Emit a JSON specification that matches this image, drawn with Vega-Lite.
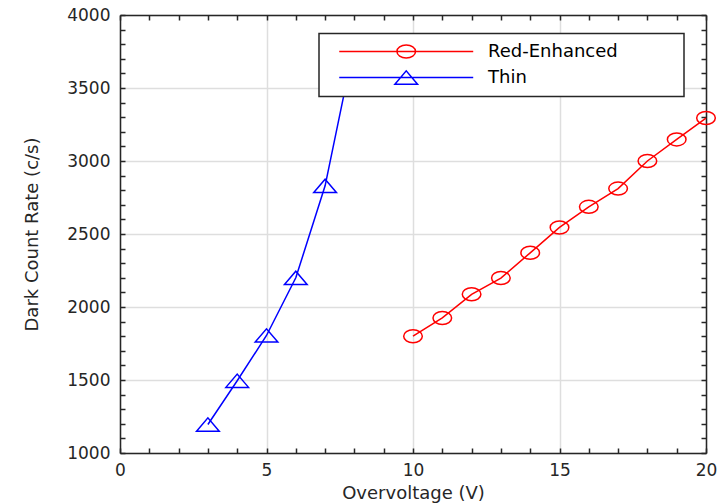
{
  "$schema": "https://vega.github.io/schema/vega-lite/v6.json",
  "width": 586,
  "height": 438,
  "autosize": {"type": "none"},
  "padding": {"left": 120, "top": 15, "right": 16, "bottom": 51},
  "background": "white",
  "data": {"values": [
    {"series": "Thin", "v": 3, "dcr": 1195},
    {"series": "Thin", "v": 4, "dcr": 1495},
    {"series": "Thin", "v": 5, "dcr": 1805},
    {"series": "Thin", "v": 6, "dcr": 2200},
    {"series": "Thin", "v": 7, "dcr": 2830},
    {"series": "Thin", "v": 8, "dcr": 3800},
    {"series": "Red-Enhanced", "v": 10, "dcr": 1800},
    {"series": "Red-Enhanced", "v": 11, "dcr": 1925},
    {"series": "Red-Enhanced", "v": 12, "dcr": 2087},
    {"series": "Red-Enhanced", "v": 13, "dcr": 2198},
    {"series": "Red-Enhanced", "v": 14, "dcr": 2371},
    {"series": "Red-Enhanced", "v": 15, "dcr": 2545},
    {"series": "Red-Enhanced", "v": 16, "dcr": 2686},
    {"series": "Red-Enhanced", "v": 17, "dcr": 2811},
    {"series": "Red-Enhanced", "v": 18, "dcr": 3000},
    {"series": "Red-Enhanced", "v": 19, "dcr": 3148},
    {"series": "Red-Enhanced", "v": 20, "dcr": 3294}
  ]},
  "layer": [
    {
      "mark": {"type": "line", "strokeWidth": 1.5},
      "encoding": {
        "x": {"field": "v", "type": "quantitative", "scale": {"domain": [0, 20], "nice": false},
          "axis": {"orient": "bottom", "title": "Overvoltage (V)", "format": "d",
            "values": [0,1,2,3,4,5,6,7,8,9,10,11,12,13,14,15,16,17,18,19,20],
            "labelExpr": "datum.value % 5 === 0 ? datum.label : ''",
            "labelOverlap": false, "labelFlush": false,
            "grid": true, "ticks": true,
            "gridOpacity": {"condition": {"test": "datum.value % 5 === 0", "value": 1}, "value": 0},
            "tickSize": -5, "labelPadding": 14.5, "titlePadding": 6}},
        "y": {"field": "dcr", "type": "quantitative", "scale": {"domain": [1000, 4000], "nice": false},
          "axis": {"orient": "left", "title": "Dark Count Rate (c/s)", "format": "d",
            "values": [1000,1100,1200,1300,1400,1500,1600,1700,1800,1900,2000,2100,2200,2300,2400,2500,2600,2700,2800,2900,3000,3100,3200,3300,3400,3500,3600,3700,3800,3900,4000],
            "labelExpr": "datum.value % 500 === 0 ? datum.label : ''",
            "labelOverlap": false, "labelFlush": false,
            "grid": true, "ticks": true,
            "gridOpacity": {"condition": {"test": "datum.value % 500 === 0", "value": 1}, "value": 0},
            "tickSize": -5, "labelPadding": 15, "titlePadding": 25}},
        "color": {"field": "series", "type": "nominal",
          "scale": {"domain": ["Red-Enhanced", "Thin"], "range": ["#ff0000", "#0000ff"]},
          "legend": {
            "title": null, "orient": "none", "legendX": 199, "legendY": 18.5,
            "direction": "vertical",
            "padding": 9, "fillColor": "white", "strokeColor": "#262626",
            "symbolSize": 196, "symbolStrokeWidth": 1.5,
            "labelFont": "DejaVu Sans", "labelFontSize": 18, "labelColor": "#000000",
            "labelLimit": 400, "labelOffset": 142, "rowPadding": 6,
            "labelExpr": "datum.label + '\u00a0\u00a0\u00a0\u00a0\u00a0\u00a0\u00a0\u00a0\u00a0\u00a0\u200b'",
            "encode": {
              "symbols": {"update": {
                "shape": {"signal": "datum.value === 'Thin' ? 'M0.32,0 L19.46,0 M8.27,0.95 L11.51,0.95 L9.89,-0.95 Z' : 'M0.32,0 L19.46,0 M8.56,0 A1.33,0.93 0 1,0 11.22,0 A1.33,0.93 0 1,0 8.56,0'"},
                "fill": {"value": "transparent"},
                "strokeWidth": {"value": 1.5}
              }},
              "legend": {"update": {"strokeWidth": {"value": 1.5}}}
            }
          }}
      }
    },
    {
      "transform": [{"filter": "datum.series === 'Red-Enhanced'"}],
      "mark": {"type": "point", "filled": false, "color": "#ff0000", "strokeWidth": 1.5, "size": 196, "opacity": 1,
        "shape": "M-1.33,0 A1.33,0.93 0 1,0 1.33,0 A1.33,0.93 0 1,0 -1.33,0"},
      "encoding": {
        "x": {"field": "v", "type": "quantitative",
          "axis": {"orient": "top", "title": null, "labels": false, "grid": false, "ticks": true,
            "values": [0,1,2,3,4,5,6,7,8,9,10,11,12,13,14,15,16,17,18,19,20], "tickSize": -5}},
        "y": {"field": "dcr", "type": "quantitative",
          "axis": {"orient": "right", "title": null, "labels": false, "grid": false, "ticks": true,
            "values": [1000,1100,1200,1300,1400,1500,1600,1700,1800,1900,2000,2100,2200,2300,2400,2500,2600,2700,2800,2900,3000,3100,3200,3300,3400,3500,3600,3700,3800,3900,4000], "tickSize": -5}}
      }
    },
    {
      "transform": [{"filter": "datum.series === 'Thin'"}],
      "mark": {"type": "point", "filled": false, "color": "#0000ff", "strokeWidth": 1.5, "size": 196, "opacity": 1,
        "shape": "M-1.62,0.95 L1.62,0.95 L0,-0.95 Z"},
      "encoding": {
        "x": {"field": "v", "type": "quantitative", "axis": null},
        "y": {"field": "dcr", "type": "quantitative", "axis": null}
      }
    }
  ],
  "resolve": {"axis": {"x": "independent", "y": "independent"}},
  "config": {
    "view": {"stroke": null},
    "font": "DejaVu Sans",
    "axis": {
      "labelFont": "DejaVu Sans", "labelFontSize": 17, "labelColor": "#262626",
      "titleFont": "DejaVu Sans", "titleFontSize": 18, "titleFontWeight": "normal", "titleColor": "#262626",
      "domainColor": "#262626", "domainWidth": 1.5,
      "tickColor": "#262626", "tickWidth": 1.5,
      "gridColor": "#dedede", "gridWidth": 1.5
    }
  }
}
